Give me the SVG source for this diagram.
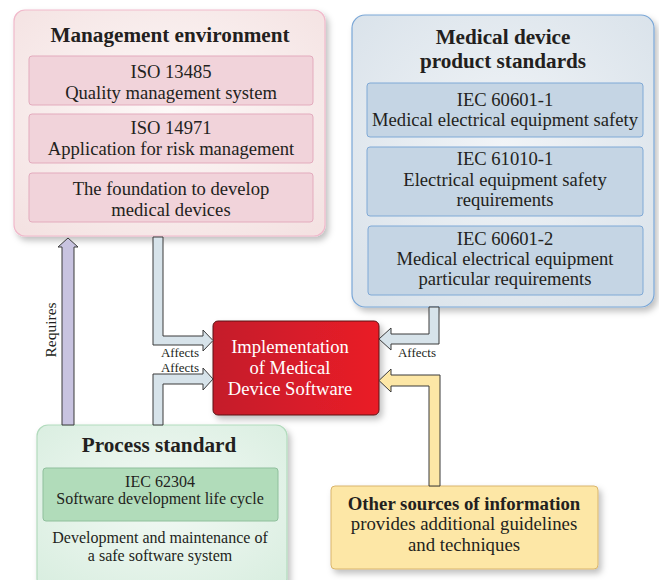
<svg xmlns="http://www.w3.org/2000/svg" width="659" height="580" viewBox="0 0 659 580">
<defs>
<filter id="sh" x="-10%" y="-10%" width="125%" height="125%">
<feDropShadow dx="3" dy="4" stdDeviation="3" flood-color="#000" flood-opacity="0.25"/>
</filter>
<radialGradient id="gPink" cx="50%" cy="45%" r="70%">
<stop offset="0" stop-color="#fdf9f8"/><stop offset="1" stop-color="#f4e2e2"/>
</radialGradient>
<radialGradient id="gBlue" cx="50%" cy="45%" r="70%">
<stop offset="0" stop-color="#f1f4f7"/><stop offset="1" stop-color="#d9e2ea"/>
</radialGradient>
<radialGradient id="gGreen" cx="50%" cy="45%" r="70%">
<stop offset="0" stop-color="#f3f9f5"/><stop offset="1" stop-color="#d9eee0"/>
</radialGradient>
<linearGradient id="gRed" x1="0" y1="0" x2="1" y2="0">
<stop offset="0" stop-color="#c41f2c"/><stop offset="1" stop-color="#ea1f27"/>
</linearGradient>
</defs>
<style>
text{font-family:"Liberation Serif","Times New Roman",serif;fill:#231f20;text-anchor:middle}
.t{font-size:21.2px;font-weight:bold}
.b{font-size:18.6px}
.o{font-size:18.8px}
.s{font-size:16px}
.w{fill:#ffffff;font-size:18.6px}
.lab{font-size:13px}
.pinkIn{fill:#f1d3da;stroke:#e3abbd;stroke-width:1}
.blueIn{fill:#c5d5e4;stroke:#7fa9d6;stroke-width:1}
.arr{stroke:#3a3a3a;stroke-width:1}
</style>

<g id="management">
<rect x="14" y="10" width="311" height="226" rx="11" fill="url(#gPink)" stroke="#f1b9cb" stroke-width="1.2" filter="url(#sh)"/>
<text class="t" x="170" y="42">Management environment</text>
<rect class="pinkIn" x="29" y="56" width="284" height="49" rx="3"/>
<text class="b" x="171" y="78">ISO 13485</text>
<text class="b" x="171" y="99">Quality management system</text>
<rect class="pinkIn" x="29" y="114" width="284" height="49" rx="3"/>
<text class="b" x="171" y="134">ISO 14971</text>
<text class="b" x="171" y="155">Application for risk management</text>
<rect class="pinkIn" x="29" y="173" width="284" height="49" rx="3"/>
<text class="b" x="171" y="195">The foundation to develop</text>
<text class="b" x="171" y="216">medical devices</text>
</g>

<g id="product-standards">
<rect x="352" y="15" width="302" height="292" rx="13" fill="url(#gBlue)" stroke="#7aa7d7" stroke-width="1.2" filter="url(#sh)"/>
<text class="t" x="503" y="44">Medical device</text>
<text class="t" x="503" y="68">product standards</text>
<rect class="blueIn" x="367" y="83" width="276" height="54" rx="3"/>
<text class="b" x="505" y="106">IEC 60601-1</text>
<text class="b" x="505" y="126">Medical electrical equipment safety</text>
<rect class="blueIn" x="367" y="147" width="276" height="69" rx="3"/>
<text class="b" x="505" y="165">IEC 61010-1</text>
<text class="b" x="505" y="186">Electrical equipment safety</text>
<text class="b" x="505" y="206">requirements</text>
<rect class="blueIn" x="368" y="226" width="275" height="69" rx="3"/>
<text class="b" x="505" y="245">IEC 60601-2</text>
<text class="b" x="505" y="265">Medical electrical equipment</text>
<text class="b" x="505" y="285">particular requirements</text>
</g>

<g id="implementation">
<rect x="213" y="321" width="166" height="94" rx="5" fill="url(#gRed)" stroke="#5a1414" stroke-width="1" filter="url(#sh)"/>
<text class="w" x="290" y="353">Implementation</text>
<text class="w" x="290" y="374">of Medical</text>
<text class="w" x="290" y="395">Device Software</text>
</g>

<g id="process-standard">
<rect x="37" y="425" width="250" height="165" rx="11" fill="url(#gGreen)" stroke="#b2dbbd" stroke-width="1.2" filter="url(#sh)"/>
<text class="t" x="159" y="452">Process standard</text>
<rect x="43" y="468" width="235" height="53" rx="3" fill="#b1dcba" stroke="#8fbf9c" stroke-width="1"/>
<text class="s" x="160" y="487">IEC 62304</text>
<text class="s" x="160" y="504">Software development life cycle</text>
<text class="s" x="160" y="543">Development and maintenance of</text>
<text class="s" x="160" y="561">a safe software system</text>
</g>

<g id="other-sources">
<rect x="331" y="486" width="267" height="83" rx="4" fill="#fde7a6" stroke="#d9b56c" stroke-width="1" filter="url(#sh)"/>
<text class="o" x="464" y="510" font-weight="bold">Other sources of information</text>
<text class="o" x="464" y="530">provides additional guidelines</text>
<text class="o" x="464" y="551">and techniques</text>
</g>

<g id="connectors">
<polygon class="arr" fill="#c8c3e0" points="62,425 62,247 58,247 68,238 78,247 74,247 74,425"/>
<polygon class="arr" fill="#d7e3ea" points="153,237 163,237 163,336 203,336 203,330 213,340.5 203,351 203,345 153,345"/>
<polygon class="arr" fill="#d7e3ea" points="153,425 153,374 203,374 203,368 213,379 203,390 203,384 163,384 163,425"/>
<polygon class="arr" fill="#d7e3ea" points="429,307 439,307 439,344 391,344 391,350 379,339 391,328 391,334 429,334"/>
<polygon class="arr" fill="#fde7a6" points="440,486 440,375 391,375 391,369 379,380.5 391,392 391,386 429,386 429,486"/>
<text class="s" font-size="15.5px" style="font-size:15.5px" transform="translate(56,330) rotate(-90)">Requires</text>
<text class="lab" x="180" y="357">Affects</text>
<text class="lab" x="180" y="372">Affects</text>
<text class="lab" x="417" y="357">Affects</text>
</g>
</svg>
